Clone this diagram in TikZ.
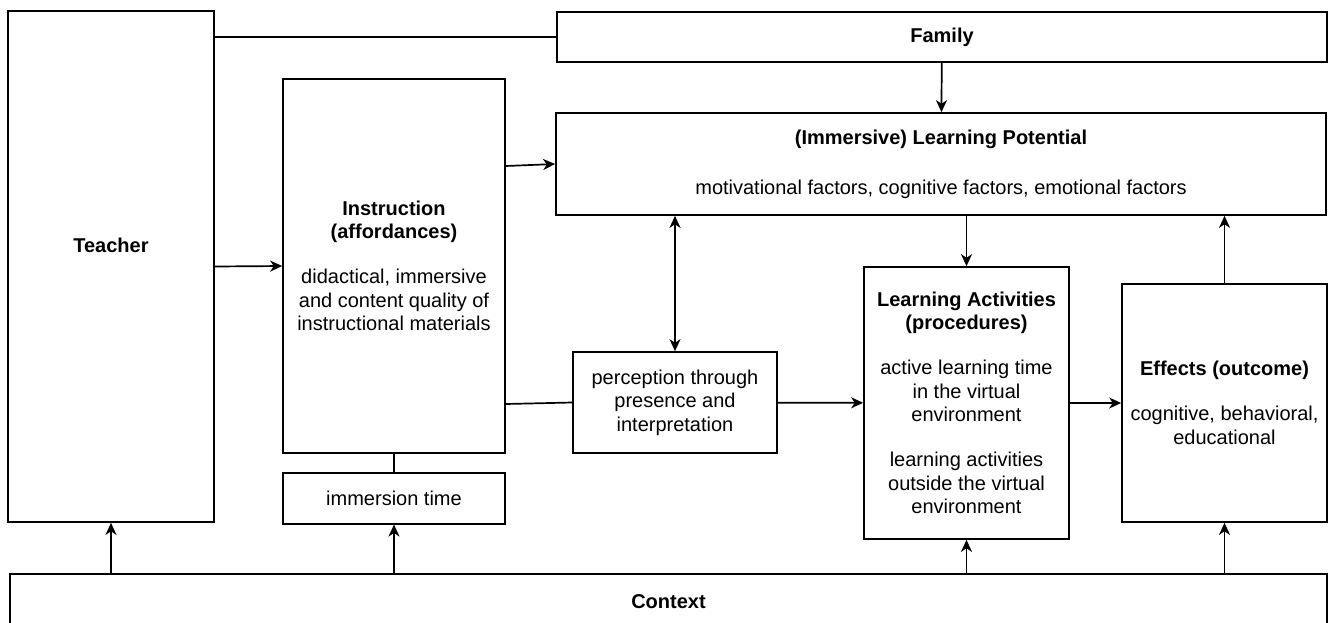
\documentclass[tikz,border=0pt]{standalone}
\usepackage{fontspec}
\setmainfont{Liberation Sans}
\usepackage{tikz}
\usetikzlibrary{positioning,arrows.meta}

\begin{document}
\begin{tikzpicture}[x=0.5pt,y=-0.5pt,line width=0.85pt,
    >={Stealth[length=6pt,width=5.5pt,inset=1.8pt]},
    box/.style={draw, align=center, inner sep=2pt,
      font=\fontsize{10}{11.75}\selectfont}]
      \useasboundingbox (0,0) rectangle (1328,622);
      \node[box, minimum width=103pt, minimum height=255.5pt,
        label={[name=teachertxt, yshift=10.5pt, font=\fontsize{10}{11.75}\selectfont\bfseries]center:Teacher}]
        (teacher) at (111,266.5) {};
      \node[box, minimum width=385pt, minimum height=25pt] (family) at (942,37) {\textbf{Family}};
      \node[box, minimum width=111pt, minimum height=187pt] (instr) at (394,266)
        {\textbf{Instruction}\\ \textbf{(affordances)}\\[10.75pt]
         didactical, immersive\\ and content quality of\\ instructional materials};
      \node[box, below=9pt of instr, minimum width=111pt, minimum height=25.5pt] (immers) {immersion time};
      \node[box, minimum width=385pt, minimum height=51pt] (lp) at (941,164)
        {\textbf{(Immersive) Learning Potential}\\[13.25pt]
         motivational factors, cognitive factors, emotional factors};
      \node[box, minimum width=102pt, minimum height=50.5pt] (percep) at (675,402.5)
        {perception through\\ presence and\\ interpretation};
      \node[box, minimum width=102.5pt, minimum height=136pt] (la) at (966.5,403)
        {\textbf{Learning Activities}\\ \textbf{(procedures)}\\[10.75pt]
         active learning time\\ in the virtual\\ environment\\[10.75pt]
         learning activities\\ outside the virtual\\ environment};
      \node[box, minimum width=102.5pt, minimum height=119pt] (effects) at (1224.5,403)
        {\textbf{Effects (outcome)}\\[10.75pt]
         cognitive, behavioral,\\ educational};
      \node[box, minimum width=658.5pt, minimum height=28pt] (context) at (668.5,602) {\textbf{Context}};

      \draw (teacher.east |- family.west) -- (family.west);
      \draw[->] (teacher.east) -- (instr.west);
      \draw[->] ([yshift=50pt]instr.east) -- (lp.west);
      \draw (instr) -- (immers);
      \draw ([yshift=-69pt]instr.east) -- (percep.west);
      \draw[->] (family) -- (lp);
      \draw[<->] (lp.south -| percep.north) -- (percep.north);
      \draw[->] (lp.south -| la.north) -- (la.north);
      \draw[->] (percep) -- (la);
      \draw[->] (la) -- (effects);
      \draw[->] (effects.north) -- (effects.north |- lp.south);
      \draw[->] (context.north -| teacher.south) -- (teacher.south);
      \draw[->] (context.north -| immers.south) -- (immers.south);
      \draw[->] (context.north -| la.south) -- (la.south);
      \draw[->] (context.north -| effects.south) -- (effects.south);
\end{tikzpicture}
\end{document}
